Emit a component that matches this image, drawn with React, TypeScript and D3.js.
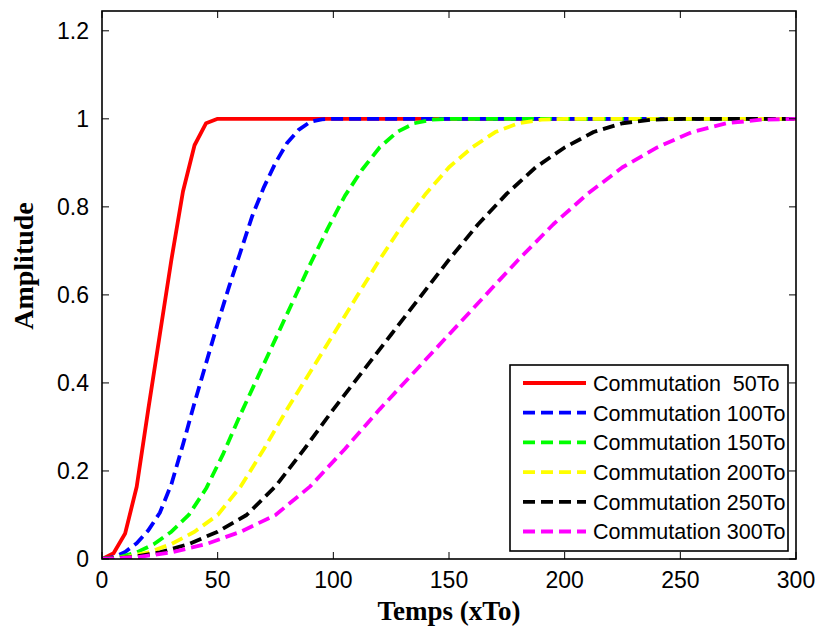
import React from "react";
import * as d3 from "d3";

// ---- data ----
const xTicks = [0, 50, 100, 150, 200, 250, 300];
const yTicks = [0, 0.2, 0.4, 0.6, 0.8, 1, 1.2];
const yTickLabels = ["0", "0.2", "0.4", "0.6", "0.8", "1", "1.2"];

const redT = [0, 5, 10, 15, 20, 25, 30, 35, 40, 45, 50, 300];
const redV = [0, 0.013, 0.058, 0.164, 0.34, 0.51, 0.68, 0.835, 0.94, 0.99, 1, 1];

const blueT = [0, 5, 10, 15, 20, 25, 30, 35, 40, 45, 50, 55, 60, 65, 70, 75, 80, 85, 90, 95, 100, 300];
const blueV = [0, 0.004, 0.016, 0.036, 0.065, 0.105, 0.17, 0.26, 0.355, 0.445, 0.535, 0.62, 0.7, 0.78, 0.845, 0.9, 0.945, 0.975, 0.993, 0.999, 1, 1];

const greenT = [0, 7.5, 15, 22.5, 30, 37.5, 45, 52.5, 60, 67.5, 75, 82.5, 90, 97.5, 105, 112.5, 120, 127.5, 135, 142.5, 150, 300];
const greenV = [0, 0.004, 0.015, 0.034, 0.062, 0.1, 0.16, 0.24, 0.33, 0.415, 0.5, 0.585, 0.67, 0.75, 0.825, 0.885, 0.935, 0.97, 0.99, 0.998, 1, 1];

const yellowT = [0, 10, 20, 30, 40, 50, 60, 70, 80, 90, 100, 110, 120, 130, 140, 150, 160, 170, 180, 190, 200, 300];
const yellowV = [0, 0.004, 0.015, 0.034, 0.062, 0.1, 0.165, 0.25, 0.34, 0.425, 0.51, 0.595, 0.68, 0.76, 0.83, 0.89, 0.935, 0.97, 0.99, 0.998, 1, 1];

const blackT = [0, 12.5, 25, 37.5, 50, 62.5, 75, 87.5, 100, 112.5, 125, 137.5, 150, 162.5, 175, 187.5, 200, 212.5, 225, 237.5, 250, 300];
const blackV = [0, 0.004, 0.015, 0.034, 0.062, 0.1, 0.165, 0.25, 0.34, 0.425, 0.51, 0.595, 0.68, 0.76, 0.83, 0.89, 0.935, 0.97, 0.99, 0.998, 1, 1];

const magentaT = [0, 15, 30, 45, 60, 75, 90, 105, 120, 135, 150, 165, 180, 195, 210, 225, 240, 255, 270, 285, 300];
const magentaV = [0, 0.004, 0.015, 0.034, 0.062, 0.1, 0.165, 0.25, 0.34, 0.425, 0.51, 0.595, 0.68, 0.76, 0.83, 0.89, 0.935, 0.97, 0.99, 0.998, 1];

const seriesNames = [
  "Commutation  50To",
  "Commutation 100To",
  "Commutation 150To",
  "Commutation 200To",
  "Commutation 250To",
  "Commutation 300To",
];
const seriesColors = ["#ff0000", "#0000ff", "#00ff00", "#ffff00", "#000000", "#ff00ff"];
const seriesT = [redT, blueT, greenT, yellowT, blackT, magentaT];
const seriesV = [redV, blueV, greenV, yellowV, blackV, magentaV];

export default function App() {
  const W = 823, H = 635;
  const left = 102, right = 796, top = 11, bottom = 559;
  const x = d3.scaleLinear().domain([0, 300]).range([left, right]);
  const y = d3.scaleLinear().domain([0, 1.245]).range([bottom, top]);
  const line = d3
    .line<[number, number]>()
    .x((d) => x(d[0]))
    .y((d) => y(d[1]));

  const tickLen = 7;
  const legX = 510, legY = 365, legW = 278, legH = 186;
  const rowY0 = 383, rowStep = 29.7;
  const dash = "12,6";

  return (
    <svg
      width={W}
      height={H}
      style={{ position: "absolute", left: 0, top: 0, background: "#fff" }}
      fontFamily="Arial, 'Liberation Sans', sans-serif"
    >
      <rect x={0} y={0} width={W} height={H} fill="#fff" />
      <defs>
        <clipPath id="clip">
          <rect x={left} y={top} width={right - left} height={bottom - top} />
        </clipPath>
      </defs>
      {/* curves */}
      <g clipPath="url(#clip)">
        {seriesT.map((ts, i) => {
          const pts = ts.map((t, k) => [t, seriesV[i][k]] as [number, number]);
          return (
            <path
              key={i}
              d={line(pts) || ""}
              fill="none"
              stroke={seriesColors[i]}
              strokeWidth={3.8}
              strokeDasharray={i === 0 ? undefined : dash}
              strokeLinejoin="round"
            />
          );
        })}
      </g>
      {/* axes box */}
      <rect x={left} y={top} width={right - left} height={bottom - top} fill="none" stroke="#000" strokeWidth={1.6} />
      {/* ticks */}
      {xTicks.map((t) => (
        <g key={"xt" + t}>
          <line x1={x(t)} x2={x(t)} y1={bottom} y2={bottom - tickLen} stroke="#000" strokeWidth={1} />
          <line x1={x(t)} x2={x(t)} y1={top} y2={top + tickLen} stroke="#000" strokeWidth={1} />
          <text x={x(t)} y={588} fontSize={23} textAnchor="middle" fill="#000">
            {t}
          </text>
        </g>
      ))}
      {yTicks.map((v, i) => (
        <g key={"yt" + v}>
          <line x1={left} x2={left + tickLen} y1={y(v)} y2={y(v)} stroke="#000" strokeWidth={1} />
          <line x1={right} x2={right - tickLen} y1={y(v)} y2={y(v)} stroke="#000" strokeWidth={1} />
          <text x={89} y={y(v) + 8.2} fontSize={23} textAnchor="end" fill="#000">
            {yTickLabels[i]}
          </text>
        </g>
      ))}
      {/* axis labels */}
      <text
        x={(left + right) / 2}
        y={620}
        fontSize={27}
        fontWeight="bold"
        fontFamily="'Liberation Serif', 'Times New Roman', serif"
        textAnchor="middle"
        fill="#000"
      >
        Temps (xTo)
      </text>
      <text
        transform={`translate(33,266) rotate(-90)`}
        fontSize={28}
        fontWeight="bold"
        fontFamily="'Liberation Serif', 'Times New Roman', serif"
        textAnchor="middle"
        fill="#000"
      >
        Amplitude
      </text>
      {/* legend */}
      <rect x={legX} y={legY} width={legW} height={legH} fill="#fff" stroke="#000" strokeWidth={1.6} />
      {seriesNames.map((name, i) => {
        const ry = rowY0 + i * rowStep;
        return (
          <g key={name}>
            <line
              x1={523}
              x2={586}
              y1={ry}
              y2={ry}
              stroke={seriesColors[i]}
              strokeWidth={3.8}
              strokeDasharray={i === 0 ? undefined : dash}
            />
            <text x={593} y={ry + 7.8} fontSize={21.5} fill="#000" style={{ whiteSpace: "pre" }}>
              {name}
            </text>
          </g>
        );
      })}
    </svg>
  );
}
